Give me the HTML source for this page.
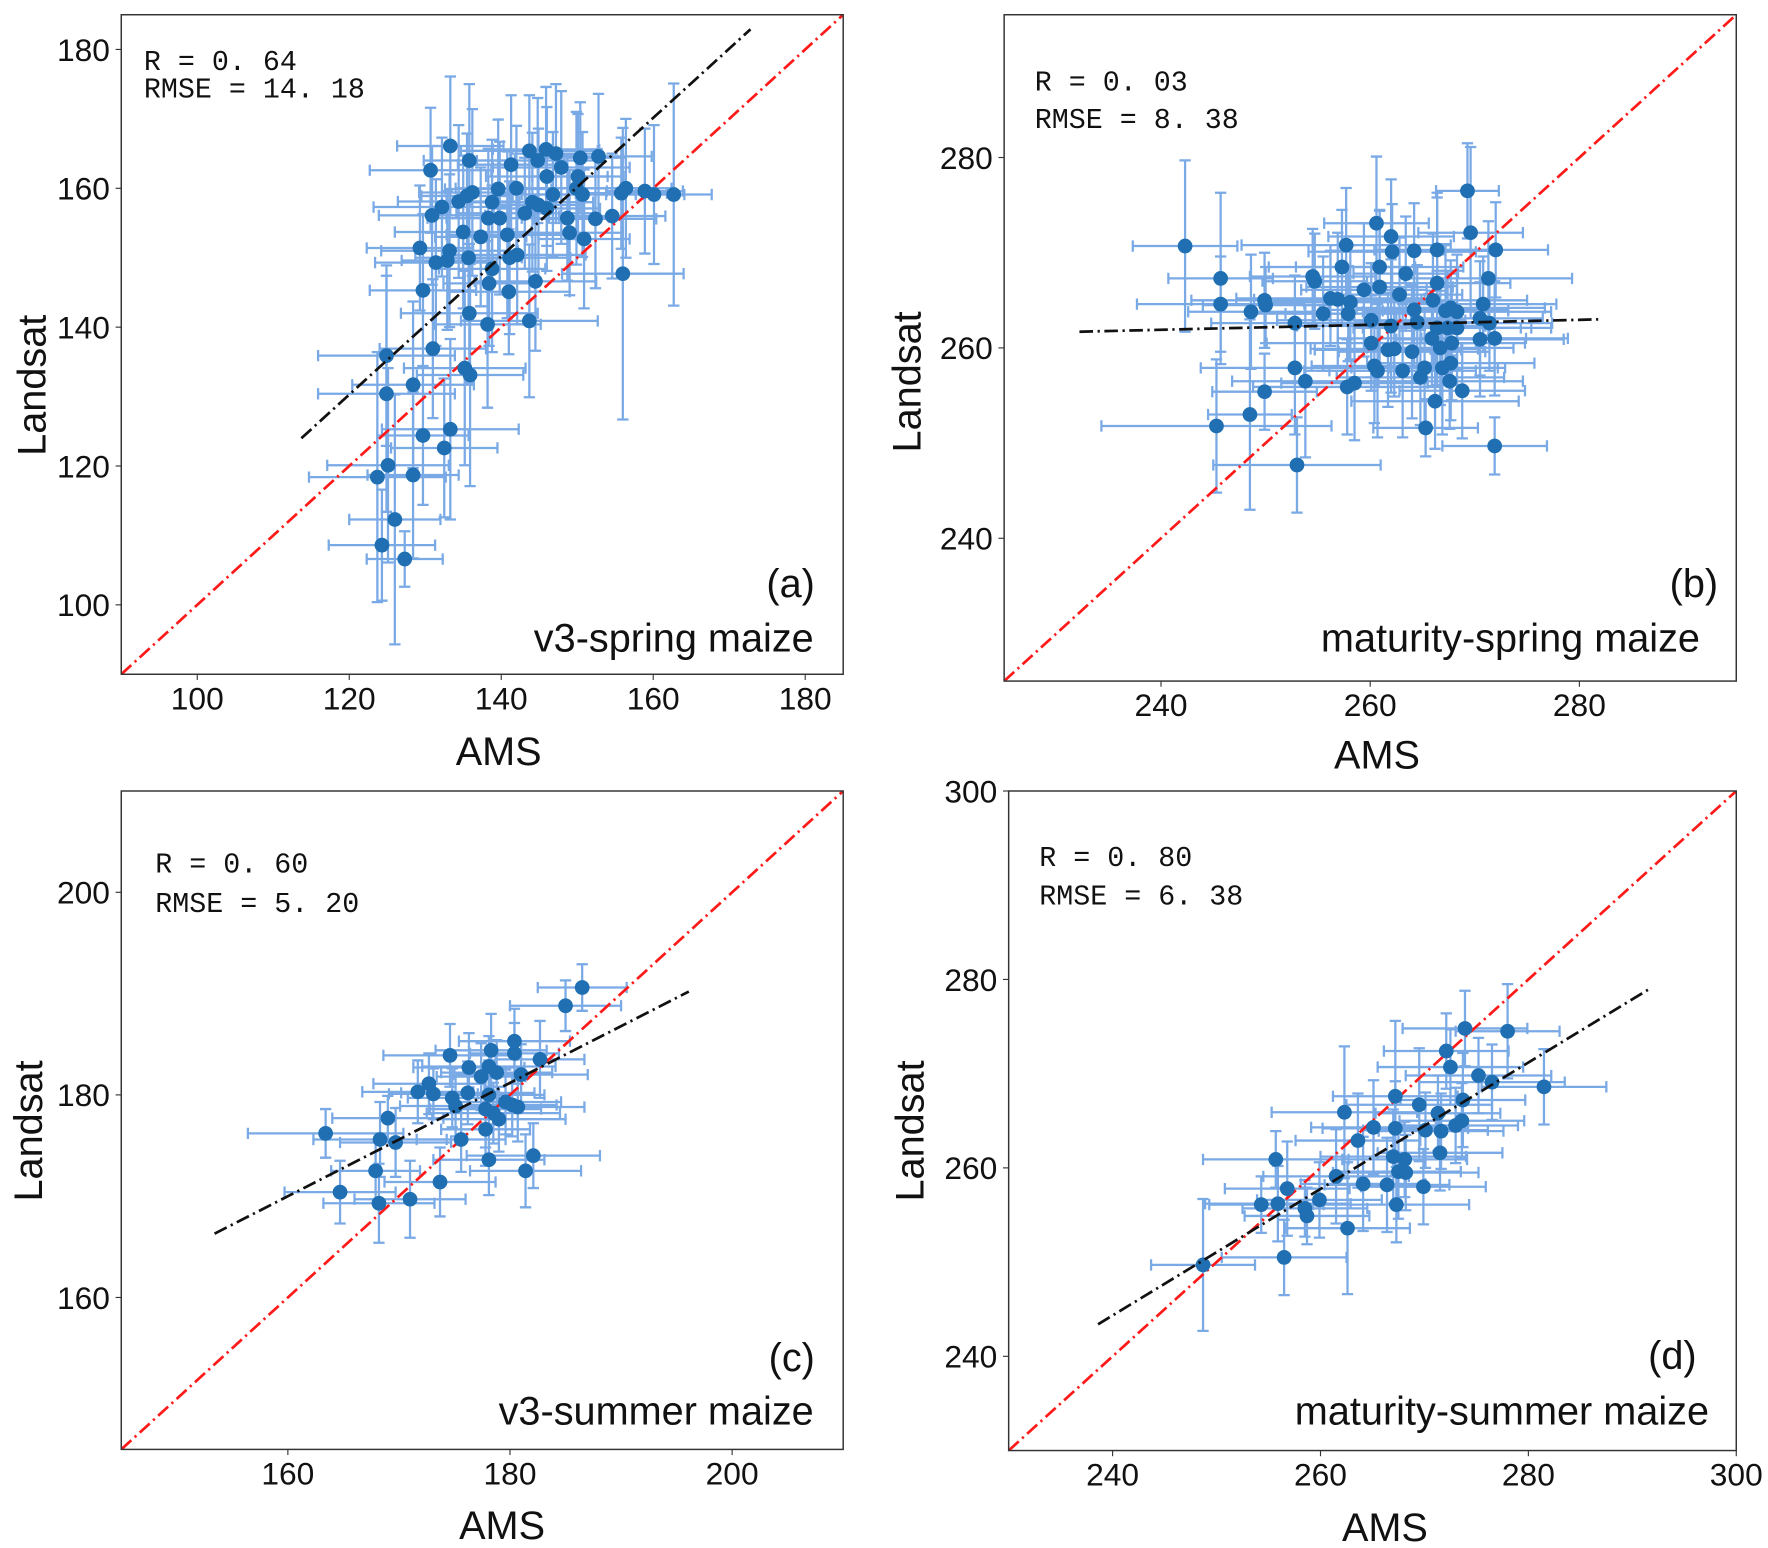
<!DOCTYPE html>
<html><head><meta charset="utf-8"><style>
html,body{margin:0;padding:0;background:#fff}
svg{display:block}
text{font-family:"Liberation Sans",Arial,sans-serif;fill:#111}
.stat{font-family:"Liberation Mono","Noto Sans CJK JP",monospace;font-size:25px}
</style></head><body>
<svg id="fig" width="1768" height="1548" viewBox="0 0 1560 1366" preserveAspectRatio="none" xmlns="http://www.w3.org/2000/svg"></svg>
<script>
// ---------- Panel (a) v3-spring ----------
const aX=[133.3,135.8,130.7,143.7,145.9,147.2,144.8,141.3,147.9,150.4,152.8,146.0,150.1,149.9,139.6,142.0,136.2,135.5,132.2,134.4,138.8,130.9,150.7,155.8,158.9,160.1,162.7,156.4,146.8,144.1,144.9,146.0,143.1,138.3,139.8,148.7,152.4,154.6,135.0,137.3,140.8,149.0,150.9,129.3,133.2,131.4,132.9,135.7,141.1,142.1,138.8,138.4,144.5,129.7,141.0,135.8,138.2,143.7,156.0,124.9,131.0,124.9,128.4,135.2,135.9,133.3,129.7,132.5,125.1,123.7,128.4,126.0,124.3,127.3];
const aY=[166.1,164.0,162.6,165.4,165.6,165.0,164.0,163.4,163.0,164.4,164.6,161.7,161.7,160.0,159.9,160.0,159.4,158.9,157.3,158.1,158.0,156.1,159.1,159.3,159.6,159.1,159.1,160.0,159.1,158.0,157.6,157.1,156.4,155.7,155.7,155.7,155.6,156.0,153.7,153.0,153.3,153.6,152.7,151.4,151.0,149.3,149.6,150.0,150.0,150.4,148.4,146.3,146.6,145.3,145.1,142.0,140.4,140.9,147.7,135.9,136.9,130.4,131.7,134.1,133.1,125.3,124.4,122.6,120.1,118.4,118.7,112.3,108.6,106.6];
const aXe=[7,6,8,9,7,6,8,7,9,6,7,8,6,9,7,8,7,6,9,8,6,7,8,6,5,4,5,6,7,8,6,7,9,8,7,6,8,7,9,6,8,7,6,7,9,8,6,7,8,9,7,6,8,7,8,9,7,9,8,9,7,9,8,8,7,9,6,7,8,9,6,6,7,5];
const aYe=[10,11,9,8,9,10,9,10,11,8,9,10,9,11,10,9,12,9,10,11,9,10,9,8,9,10,16,10,9,10,11,9,8,10,11,9,10,9,11,10,12,9,10,9,11,12,10,9,11,10,12,9,10,11,9,10,12,11,21,13,10,17,12,14,16,13,10,10,14,18,12,18,8,4];
const aFit=[113.7,124.0,172.8,182.9];
// ---------- Panel (b) maturity-spring ----------
const bX=[242.3,245.7,245.7,248.6,249.9,250.0,252.8,252.8,253.8,249.9,248.5,245.3,253.0,254.5,254.7,255.5,256.2,256.9,257.3,257.7,257.9,258.1,257.8,258.5,259.4,260.6,260.9,260.9,260.1,260.1,260.4,260.7,262.0,262.1,262.0,261.7,262.3,262.8,263.4,263.1,264.2,264.2,264.0,264.5,264.8,265.2,265.3,266.0,266.2,266.4,266.4,266.4,265.9,266.7,267.2,267.4,267.7,267.8,266.9,267.7,267.6,268.3,268.8,269.3,269.6,270.5,270.8,271.3,271.4,271.9,272.0,270.5,271.9,268.3];
const bY=[270.7,267.3,264.6,263.8,265.0,264.5,262.6,257.9,256.5,255.4,253.0,251.8,247.7,267.5,267.0,263.6,265.2,265.1,268.5,270.8,263.6,264.8,255.9,256.3,266.1,273.1,268.5,266.4,262.9,260.5,258.1,257.6,271.7,270.1,262.3,259.8,259.9,265.6,267.8,257.6,270.2,264.0,259.6,262.7,256.9,257.9,251.6,265.0,254.4,270.3,266.8,262.1,261.0,260.0,263.9,262.1,264.2,260.5,257.9,258.4,256.5,263.8,255.5,276.5,272.1,263.1,264.6,267.3,262.6,261.0,270.3,260.9,249.7,262.1];
const bXe=[5,5,8,6,7,6,8,9,7,5,4,11,8,6,5,7,9,8,7,10,6,8,9,7,6,5,8,7,9,10,6,7,6,8,9,7,8,6,5,7,8,9,7,6,8,7,5,9,8,6,7,8,9,7,6,8,9,7,6,8,7,9,6,3,5,6,7,8,6,7,5,8,5,9];
const bYe=[9,9,5,6,5,4,5,7,8,4,10,7,5,5,5,6,5,7,6,6,5,6,5,6,7,7,6,8,6,5,6,7,6,5,7,6,5,6,6,7,5,6,7,6,5,6,3,7,5,6,9,6,5,6,7,6,5,6,7,6,5,6,5,5,9,6,5,6,5,6,5,6,3,6];
const bFit=[232.2,261.7,281.8,263.0];
// ---------- Panel (c) v3-summer ----------
const cX=[186.5,185.0,180.4,180.4,178.3,174.6,182.7,176.3,178.1,178.8,177.4,181.0,172.7,171.7,173.1,176.2,178.1,174.8,175.1,179.6,180.2,180.7,177.8,178.5,179.0,169.0,177.8,163.4,168.3,169.7,175.6,182.1,178.1,167.9,181.4,173.7,164.7,171.0,168.2];
const cY=[190.6,188.8,185.3,184.1,184.4,183.9,183.5,182.7,182.8,182.2,181.8,182.0,181.1,180.3,180.1,180.2,180.0,179.7,178.9,179.3,179.0,178.8,178.6,178.2,177.6,177.7,176.6,176.2,175.6,175.3,175.6,174.0,173.6,172.5,172.5,171.4,170.4,169.7,169.3];
const cXe=[4,5,5,4,5,6,4,5,6,5,4,6,5,5,4,6,5,4,5,5,4,6,5,6,6,5,4,7,6,5,4,6,5,4,5,5,5,5,5];
const cYe=[2.3,2.5,3.2,3.0,3.6,3.1,3.8,3.4,3.0,3.2,3.3,3.0,3.0,3.1,2.5,3.1,3.4,2.9,3.0,3.2,3.1,3.4,3.8,3.0,3.2,2.2,3.6,2.4,3.7,3.4,3.2,3.2,3.5,2.8,3.6,3.4,3.1,3.8,3.9];
const cFit=[153.4,166.3,196.1,190.2];
// ---------- Panel (d) maturity-summer ----------
const dX=[273.9,278.0,272.1,272.5,275.2,276.5,281.5,267.2,269.5,273.7,262.3,271.3,265.1,267.2,270.1,271.6,273.0,273.6,263.6,271.5,255.7,267.0,268.1,261.5,267.5,268.2,256.8,264.1,266.4,269.9,254.3,255.9,259.9,258.5,258.7,267.3,262.6,256.5,248.7];
const dY=[274.8,274.5,272.4,270.7,269.8,269.1,268.6,267.6,266.7,267.2,265.9,265.8,264.3,264.2,264.0,263.9,264.5,265.0,262.9,261.6,260.9,261.2,260.9,259.1,259.6,259.5,257.8,258.3,258.2,258.0,256.1,256.2,256.6,255.7,254.9,256.1,253.6,250.5,249.7];
const dXe=[6,5,6,7,7,7,6,6,7,6,7,6,6,7,6,6,6,6,6,6,7,7,6,7,6,7,6,6,6,6,5,7,6,6,6,7,6,6,5];
const dYe=[4,5,4,4,4,4,4,8,6,5,7,4,5,5,4,4,4,4,5,4,3,5,4,5,5,4,5,5,5,4,3,4,4,3,3,4,7,4,7];
const dFit=[238.6,243.4,291.5,278.9];

const panels=[
 {id:'a',box:[107,13,744,595],rng:[90,185,90,185],xt:[100,120,140,160,180],yt:[100,120,140,160,180],X:aX,Y:aY,XE:aXe,YE:aYe,fit:aFit,
  r:['R = 0. 64','RMSE = 14. 18'],rp:[127,62,86],lab:'(a)',lp:[719,527],nm:'v3-spring maize',np:[718,575],ams:[440,675],ls:[28,340]},
 {id:'b',box:[886,13,1532,601],rng:[225,295,225,295],xt:[240,260,280],yt:[240,260,280],X:bX,Y:bY,XE:bXe,YE:bYe,fit:bFit,
  r:['R = 0. 03','RMSE = 8. 38'],rp:[913,80,113],lab:'(b)',lp:[1516,527],nm:'maturity-spring maize',np:[1500,575],ams:[1215,678],ls:[800,337]},
 {id:'c',box:[107,698,744,1279],rng:[145,210,145,210],xt:[160,180,200],yt:[160,180,200],X:cX,Y:cY,XE:cXe,YE:cYe,fit:cFit,
  r:['R = 0. 60','RMSE = 5. 20'],rp:[137,770,805],lab:'(c)',lp:[719,1210],nm:'v3-summer maize',np:[718,1257],ams:[443,1358],ls:[25,998]},
 {id:'d',box:[890,698,1532,1280],rng:[230,300,230,300],xt:[240,260,280,300],yt:[240,260,280,300],X:dX,Y:dY,XE:dXe,YE:dYe,fit:dFit,
  r:['R = 0. 80','RMSE = 6. 38'],rp:[917,764,798],lab:'(d)',lp:[1497,1208],nm:'maturity-summer maize',np:[1508,1257],ams:[1222,1360],ls:[803,998]}
];
const NS='http://www.w3.org/2000/svg';
const svg=document.getElementById('fig');
function mk(tag,attrs,parent,txt){const e=document.createElementNS(NS,tag);for(const k in attrs)e.setAttribute(k,attrs[k]);if(txt!==undefined)e.textContent=txt;parent.appendChild(e);return e;}
panels.forEach(p=>{
 const [L,T,R,B]=p.box,[x0,x1,y0,y1]=p.rng;
 const sx=v=>L+(v-x0)/(x1-x0)*(R-L), sy=v=>B-(v-y0)/(y1-y0)*(B-T);
 const g=mk('g',{},svg);
 
 
 const cp=mk('clipPath',{id:'clip'+p.id},g);mk('rect',{x:L,y:T,width:R-L,height:B-T},cp);
 const bars=mk('g',{stroke:'#7aaae6','stroke-width':2,fill:'none'},g);
 
 
 p.X.forEach((xv,i)=>{const yv=p.Y[i],cx=sx(xv),cy=sy(yv),xa=sx(xv-p.XE[i]),xb=sx(xv+p.XE[i]),ya=sy(yv-p.YE[i]),yb=sy(yv+p.YE[i]);
  mk('path',{d:`M${xa},${cy}H${xb}M${cx},${ya}V${yb}M${xa},${cy-5}V${cy+5}M${xb},${cy-5}V${cy+5}M${cx-5},${ya}H${cx+5}M${cx-5},${yb}H${cx+5}`},bars);});
 const one=mk('line',{x1:sx(x0),y1:sy(x0),x2:sx(x1),y2:sy(x1),stroke:'#ff1a1a','stroke-width':2.4,'stroke-dasharray':'12 4 2 4','clip-path':`url(#clip${p.id})`},g);
 
 
 const pts=mk('g',{fill:'#1f6fb2'},g);
 
 
 p.X.forEach((xv,i)=>{const c=mk('circle',{cx:sx(xv),cy:sy(p.Y[i]),r:6.5},pts);
  
  });
 const f=p.fit;
 const fl=mk('line',{x1:sx(f[0]),y1:sy(f[1]),x2:sx(f[2]),y2:sy(f[3]),stroke:'#111','stroke-width':2.4,'stroke-dasharray':'12 4 2 4'},g);
 
 
 const fr=mk('rect',{x:L,y:T,width:R-L,height:B-T,fill:'none',stroke:'#333','stroke-width':1.3},g);
 
 
 p.xt.forEach(v=>{mk('line',{x1:sx(v),x2:sx(v),y1:B,y2:B+5,stroke:'#333'},g);
  const t=mk('text',{x:sx(v),y:B+31,'font-size':28,'text-anchor':'middle'},g,String(v));
  
  });
 p.yt.forEach(v=>{mk('line',{x1:L-5,x2:L,y1:sy(v),y2:sy(v),stroke:'#333'},g);
  const t=mk('text',{x:L-10,y:sy(v)+10,'font-size':28,'text-anchor':'end'},g,String(v));
  
  });
 const xl=mk('text',{x:p.ams[0],y:p.ams[1],'font-size':35,'text-anchor':'middle'},g,'AMS');
 
 
 const yl=mk('text',{x:p.ls[0]+12,y:p.ls[1],'font-size':35,'text-anchor':'middle',transform:`rotate(-90 ${p.ls[0]+12} ${p.ls[1]})`},g,'Landsat');
 
 
 const s1=mk('text',{x:p.rp[0],y:p.rp[1],class:'stat'},g,p.r[0]);
 
 
 const s2=mk('text',{x:p.rp[0],y:p.rp[2],class:'stat'},g,p.r[1]);
 
 
 const lb=mk('text',{x:p.lp[0],y:p.lp[1],'font-size':35,'text-anchor':'end'},g,p.lab);
 
 
 const nm=mk('text',{x:p.np[0],y:p.np[1],'font-size':35,'text-anchor':'end'},g,p.nm);
 
 
});
</script>
</body></html>
